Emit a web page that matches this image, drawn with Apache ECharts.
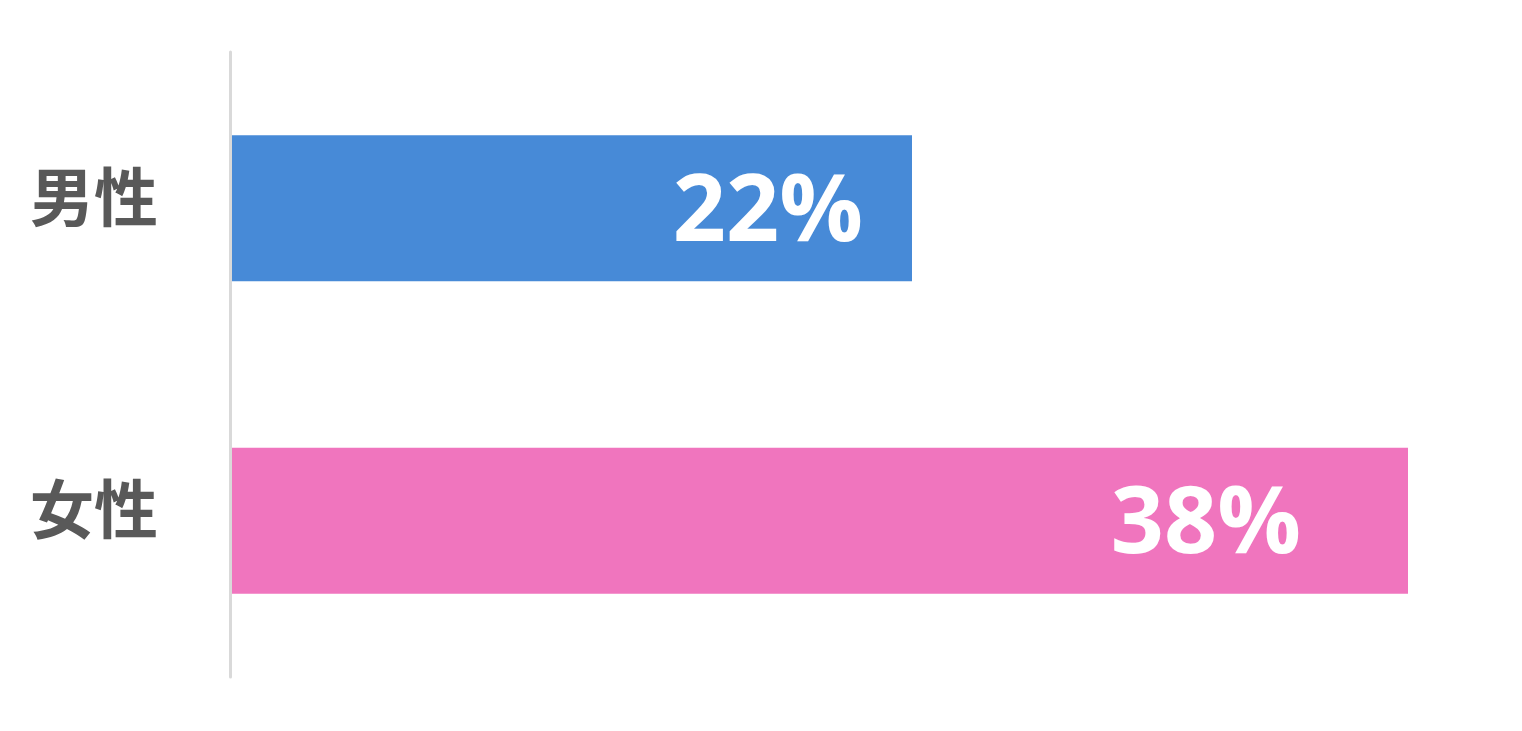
<!DOCTYPE html>
<html>
<head>
<meta charset="utf-8">
<script src="https://cdn.jsdelivr.net/npm/echarts@6/dist/echarts.min.js"></script>
<style>html,body{margin:0;padding:0;background:#fff;}#c{width:1522px;height:731px;}</style>
</head>
<body>
<div id="c"></div>
<script>
const categories = ['男性', '女性'];
const values = [22, 38];
const barColors = ['#478AD7', '#F075BE'];
const labelDistances = [49, 107];

const chart = echarts.init(document.getElementById('c'));
chart.setOption({
  animation: false,
  grid: { left: 230, right: 52, top: 52, bottom: 54 },
  xAxis: { type: 'value', min: 0, max: 40, show: false },
  yAxis: {
    type: 'category',
    data: categories,
    inverse: true,
    z: 5,
    axisLine: { show: true, lineStyle: { color: '#D9D9D9', width: 3 } },
    axisTick: { show: false },
    axisLabel: {
      margin: 72,
      color: '#595959',
      fontSize: 64,
      fontWeight: 'bold',
      fontFamily: '"Noto Sans CJK JP", sans-serif',
      verticalAlign: 'bottom',
      lineHeight: 24
    }
  },
  series: [{
    type: 'bar',
    barWidth: 146,
    data: values.map((v, i) => ({
      value: v,
      itemStyle: { color: barColors[i] },
      label: { distance: labelDistances[i] }
    })),
    label: {
      show: true,
      position: 'insideRight',
      color: '#fff',
      fontSize: 93,
      fontWeight: 'bold',
      fontFamily: '"Open Sans", sans-serif',
      offset: [0, 6],
      formatter: '{c}%'
    }
  }]
});
</script>
</body>
</html>
